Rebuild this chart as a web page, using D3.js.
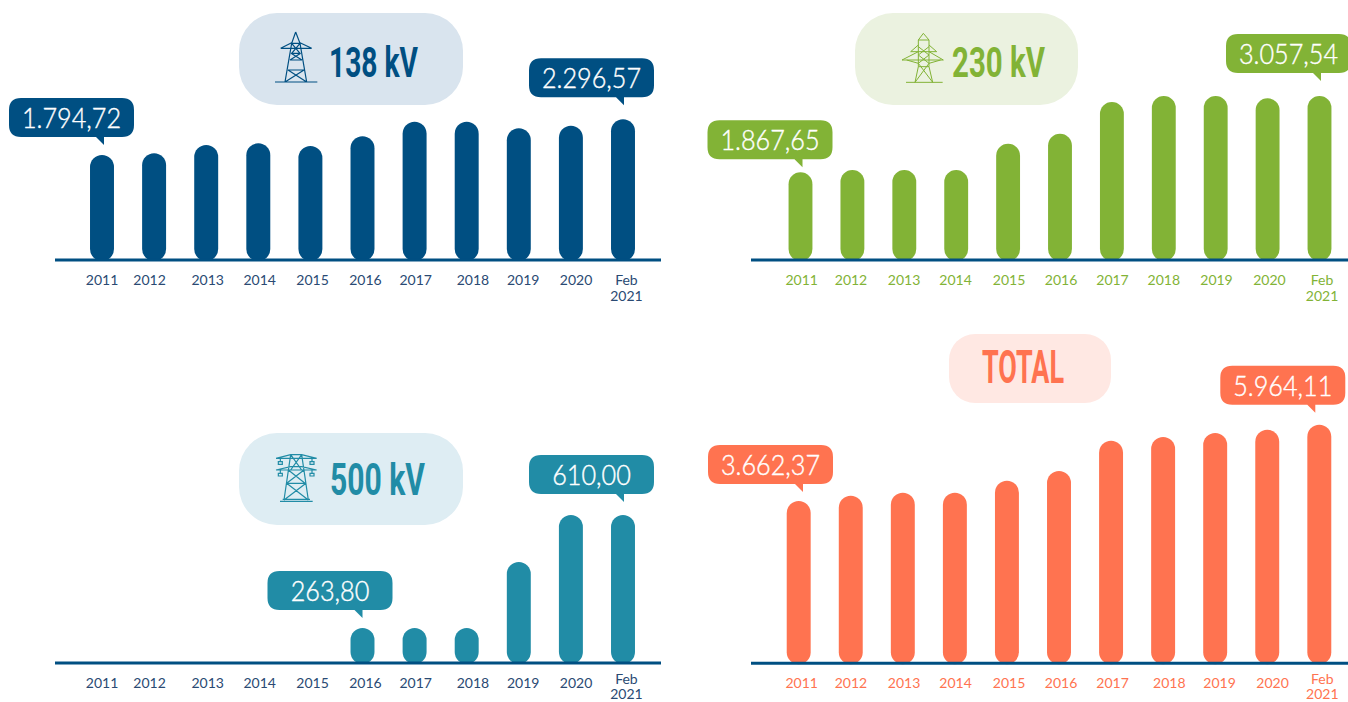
<!DOCTYPE html>
<html lang="en">
<head>
    <meta charset="UTF-8">
    <title>Extensão de linhas por tensão</title>
    <script src="https://d3js.org/d3.v7.min.js"></script>
    <style>
        html, body { margin: 0; padding: 0; background: #fff; overflow: hidden; }
        svg { display: block; }
        .tick text { font-family: Lato, sans-serif; font-size: 14px; }
    </style>
</head>
<body>
    <svg width="1348" height="702"></svg>
    <script>
        const categories = ['2011', '2012', '2013', '2014', '2015', '2016', '2017', '2018', '2019', '2020', 'Feb 2021'];

        // only the called out values are printed there
        const values138 = [1794.72, 1818, 1935, 1959, 1921, 2057, 2262, 2262, 2170, 2206, 2296.57];
        const values230 = [1867.65, 1903, 1903, 1903, 2313, 2469, 2964, 3057.54, 3057.54, 3022, 3057.54];
        const values500 = [null, null, null, null, null, 263.80, 263.80, 263.80, 466, 610.00, 610.00];
        const valuesTotal = [3662.37, 3823, 3913, 3913, 4275, 4568, 5482, 5593, 5714, 5814, 5964.11];

        const fmt = d3.formatLocale({ decimal: ',', thousands: '.', grouping: [3], currency: ['', ''] }).format(',.2f');

        const svg = d3.select('svg');

        // the labels in the original are placed by hand, hence the nudges
        const nudgeLeft = [0, -4.5, 1.5, 1.4, 2.2, 2.9, 1.1, 6.2, 4.4, 5.2, 3.4];
        const nudge230 = [1.2, -1.4, -0.3, -0.6, 0.9, 1, 0.6, 0, 0.8, 1.8, 2.5];
        const nudgeTotal = [3, 0.2, 1.2, 0.7, 2.1, 2, 1.5, 6.2, 4.4, 5.3, 3];

        const panels = [
            { title: '138 kV', values: values138, color: '#004f82', tick: '#2a4a73', pale: '#d9e4ee',
              xRange: [75.95, 649.05], line: [55, 661], base: 260, top: 119.3, floor: 318, nudges: nudgeLeft,
              pill: [239, 13, 224, 92, 38], titleX: 329, titleY: 77, titleW: 89, titleSize: 43, icon: 'i138',
              febLift: 0, febGap: 16,
              callouts: [{ i: 0, gap: 18, dx: -93 }, { i: 10, gap: 22, dx: -94 }] },
            { title: '230 kV', values: values230, color: '#82b336', tick: '#82b336', pale: '#ebf2e0',
              xRange: [774.55, 1345.45], line: [751, 1348], base: 260, top: 96, floor: 499, nudges: nudge230,
              pill: [855, 13, 223, 92, 38], titleX: 952, titleY: 76.7, titleW: 93, titleSize: 43, icon: 'i230',
              febLift: 0, febGap: 16,
              callouts: [{ i: 0, gap: 13, dx: -93 }, { i: 10, gap: 23, dx: -93.5 }] },
            { title: '500 kV', values: values500, color: '#218ca6', tick: '#2a4a73', pale: '#deedf3',
              xRange: [75.95, 649.05], line: [55, 661], base: 663, top: 515, floor: 156.6, nudges: nudgeLeft,
              pill: [239, 433, 224, 92, 38], titleX: 330, titleY: 495, titleW: 95, titleSize: 44, icon: 'i500',
              febLift: -4, febGap: 15,
              callouts: [{ i: 5, gap: 18, dx: -95 }, { i: 10, gap: 21, dx: -94 }] },
            { title: 'TOTAL', values: valuesTotal, color: '#ff7350', tick: '#ff7350', pale: '#ffe8e3',
              xRange: [772.67, 1345.33], line: [751, 1348], base: 663.3, top: 424.7, floor: -1234, nudges: nudgeTotal,
              pill: [949, 334, 162, 69, 26], titleX: 982, titleY: 383, titleW: 82, titleSize: 46, icon: null,
              febLift: -4, febGap: 15,
              callouts: [{ i: 0, gap: 17, dx: -90.7 }, { i: 10, gap: 20, dx: -99 }] }
        ];

        // tower icons at 3x
        const icons = {
            i138: { at: [260, 20], w: 3.6, d: 'M45 186H172 M107 36L95 70L75 186 M107 36L120 70L140 186 M62 85H155 M62 85L95 68 M155 85L120 68 M95 70H120 M93 100H122 M90 120H126 M84 150H132 M95 70L120 100 M120 70L95 100 M93 100L126 120 M122 100L90 120 M75 186L132 150 M140 186L84 150' },
            i230: { at: [880, 20], w: 3, d: 'M78 187H188 M130 40L115 60V140L105 187 M130 40L147 60V140L158 187 M115 60H147 M115 80L147 105 M147 80L115 105 M115 105L147 130 M147 105L115 130 M115 130L158 187 M147 130L105 187 M115 140H147 M92 95H170 M92 95L115 75 M170 95L147 75 M66 120H190 M66 120L115 95 M190 120L147 95 M115 130L80 120 M147 130L182 120' },
            i500: { at: [260, 440], w: 3.6, d: 'M48 55L92 44H125L170 55 M48 90L92 80H125L170 90 M48 55H170 M48 90H170 M92 44L72 180 M125 44L145 180 M92 44L125 90 M125 44L92 90 M85 90L135 130 M132 90L80 130 M80 130H138 M80 130L145 180 M138 130L72 180 M60 184H158 M68 178H150 M55 65H67V73H55Z M150 65H162V73H150Z M55 100H67V108H55Z M150 100H162V108H150Z M61 55V65 M156 55V65 M61 90V100 M156 90V100' }
        };

        function calloutPath(x, y, w, h, r) {
            // rounded box with the small tail under its right side
            const tx = x + 92, tipX = x + 95, tipY = y + h + 8;
            return `M${x + r} ${y}H${x + w - r}Q${x + w} ${y} ${x + w} ${y + r}V${y + h - r}Q${x + w} ${y + h} ${x + w - r} ${y + h}` +
                `H${tipX}V${tipY}L${tx - 5} ${y + h}H${x + r}Q${x} ${y + h} ${x} ${y + h - r}V${y + r}Q${x} ${y} ${x + r} ${y}Z`;
        }

        panels.forEach(p => {
            const g = svg.append('g');

            const x = d3.scaleBand()
                        .domain(categories)
                        .range(p.xRange)
                        .paddingInner(0.54)
                        .paddingOuter(0.27);
            const y = d3.scaleLinear()
                        .domain([p.floor, d3.max(p.values)])
                        .range([p.base, p.top]);

            // title pill
            g.append('rect')
                .attr('x', p.pill[0]).attr('y', p.pill[1])
                .attr('width', p.pill[2]).attr('height', p.pill[3])
                .attr('rx', p.pill[4])
                .attr('fill', p.pale);
            g.append('text')
                .attr('x', p.titleX).attr('y', p.titleY)
                .attr('font-family', '"Liberation Sans Narrow", Roboto, sans-serif')
                .attr('font-weight', 700)
                .attr('font-size', p.titleSize)
                .attr('textLength', p.titleW)
                .attr('lengthAdjust', 'spacingAndGlyphs')
                .attr('fill', p.color)
                .text(p.title);
            if (p.icon) {
                const ic = icons[p.icon];
                g.append('path')
                    .attr('transform', `translate(${ic.at[0]},${ic.at[1]}) scale(${1 / 3})`)
                    .attr('d', ic.d)
                    .attr('fill', 'none')
                    .attr('stroke', p.color)
                    .attr('stroke-width', ic.w);
            }

            // bars
            const rows = categories.map((c, i) => ({ c: c, v: p.values[i] })).filter(d => d.v !== null);
            g.selectAll('.bar')
                .data(rows)
                .enter()
                .append('rect')
                .attr('class', 'bar')
                .attr('x', d => x(d.c))
                .attr('y', d => y(d.v))
                .attr('width', x.bandwidth())
                .attr('height', d => p.base + 1 - y(d.v))
                .attr('rx', x.bandwidth() / 2)
                .attr('fill', p.color);

            // baseline
            g.append('line')
                .attr('x1', p.line[0]).attr('x2', p.line[1])
                .attr('y1', p.base).attr('y2', p.base)
                .attr('stroke', '#004f82')
                .attr('stroke-width', 3);

            // tick labels
            const axis = d3.axisBottom(x).tickSize(0).tickPadding(15);
            const ax = g.append('g')
                .attr('transform', `translate(0, ${p.base})`)
                .call(axis);
            ax.select('.domain').remove();
            ax.selectAll('.tick text')
                .attr('fill', p.tick)
                .attr('dx', (d, i) => p.nudges[i])
                .each(function (d, i) {
                    const parts = d.split(' ');
                    if (parts.length < 2) return;
                    const t = d3.select(this).text(null);
                    parts.forEach((s, k) => {
                        t.append('tspan')
                            .attr('x', 0)
                            .attr('dx', p.nudges[i])
                            .attr('dy', k ? p.febGap : 9.9 + p.febLift)
                            .text(s);
                    });
                    t.attr('dy', null);
                });

            // callouts
            p.callouts.forEach(c => {
                const cat = categories[c.i];
                const cx = x(cat) + x.bandwidth() / 2;
                const bx = cx + c.dx;
                const by = y(p.values[c.i]) - c.gap - 39;
                g.append('path')
                    .attr('d', calloutPath(bx, by, 125, 39, 12))
                    .attr('fill', p.color);
                const label = g.append('text')
                    .attr('x', bx + 62.5).attr('y', by + 20)
                    .attr('dy', '0.36em')
                    .attr('text-anchor', 'middle')
                    .attr('font-family', 'Lato, sans-serif')
                    .attr('font-weight', 300)
                    .attr('font-size', 28)
                    .attr('fill', '#fff')
                    .attr('stroke', '#fff')
                    .attr('stroke-width', 0.4)
                    .text(fmt(p.values[c.i]));
                // the original face is narrower than Lato
                label.attr('textLength', label.node().getComputedTextLength() * 0.9)
                    .attr('lengthAdjust', 'spacingAndGlyphs');
            });
        });
    </script>
</body>
</html>
